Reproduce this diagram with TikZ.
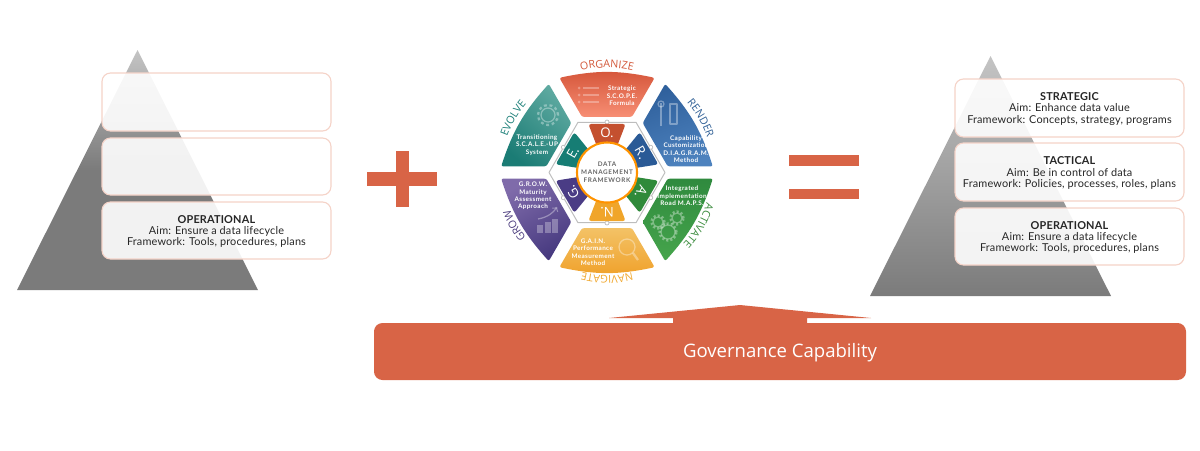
\documentclass[tikz,border=0pt]{standalone}
\usepackage{fontspec}
\setmainfont[LetterSpace=1.5]{Lato}
\newfontfamily\sectorfont[LetterSpace=6]{Lato}
\newfontfamily\centerfont[LetterSpace=10]{Lato}
\newfontfamily\wordfont{Open Sans}
\newcommand{\wheelword}{\wordfont\fontsize{7.6}{7.6}\selectfont}
\usetikzlibrary{decorations.text}

\definecolor{accent}{HTML}{D86446}
\definecolor{boxline}{HTML}{F5D3C8}
\definecolor{pyrtop}{HTML}{C4C4C4}
\definecolor{pyrlow}{HTML}{7B7B7B}
\definecolor{inktext}{HTML}{262626}
\definecolor{hexline}{HTML}{BDBDBD}

\tikzset{
    levelbox/.style={draw=boxline,line width=0.8pt,fill=white,fill opacity=0.9,
        text opacity=1,rounded corners=6pt},
    leveltext/.style={text=inktext,align=center,font=\fontsize{7.75}{8.1}\selectfont},
    sectortext/.style={text=white,align=center,font=\sectorfont\bfseries\fontsize{4.5}{5.3}\selectfont},
    iconline/.style={draw=white,draw opacity=0.35,line width=0.9pt},
    iconfill/.style={fill=white,fill opacity=0.3},
}

\begin{document}
\begin{tikzpicture}[x=0.025cm,y=0.025cm,line join=round]
    \useasboundingbox (0,0) rectangle (1200,-450);

    % Draw both pyramids.
    \shade[top color=pyrtop,bottom color=pyrlow,middle color=pyrlow]
        (137.5,-50) -- (258,-290) -- (17,-290) -- cycle;
    \shade[top color=pyrtop,bottom color=pyrlow]
        (990.5,-56) -- (1111,-296) -- (870,-296) -- cycle;

    % Put the level boxes over them, the texts go on top.
    \foreach \name/\xa/\ya/\xb/\yb in {%
        lefttop/102/73/331/131,
        leftmid/102/138/331/195,
        leftlow/102/202/331/259,
        righttop/955/79/1184/137,
        rightmid/955/143/1184/201,
        rightlow/955/208/1184/265} {
        \filldraw[levelbox] (\xa,-\ya) rectangle (\xb,-\yb);
    }
    \foreach \name/\x/\y/\heading/\aim/\plan in {%
        leftlow/216.5/231.5/OPERATIONAL/Ensure a data lifecycle/Tools{,} procedures{,} plans,
        righttop/1069.5/109/STRATEGIC/Enhance data value/Concepts{,} strategy{,} programs,
        rightmid/1069.5/173/TACTICAL/Be in control of data/Policies{,} processes{,} roles{,} plans,
        rightlow/1069.5/237.5/OPERATIONAL/Ensure a data lifecycle/Tools{,} procedures{,} plans} {
        \node[leveltext] (\name) at (\x,-\y) {\textbf{\heading}\\Aim: \aim\\Framework: \plan};
    }

    % Plus and equals signs.
    \fill[accent] (367,-172) rectangle (437,-186);
    \fill[accent] (396,-151) rectangle (409,-207);
    \fill[accent] (789,-155) rectangle (859,-166);
    \fill[accent] (789,-189) rectangle (859,-199);

    % Bar with the arrow growing out of it.
    \fill[accent] (740,-305) -- (871,-318) -- (807,-318) -- (807,-325)
        -- (673,-325) -- (673,-318) -- (609,-318) -- cycle;
    \fill[accent,rounded corners=6pt] (374,-323) rectangle (1186,-380);
    \node[text=white,font=\wordfont\fontsize{13.2}{14}\selectfont] (governance) at (780,-352.5)
        {Governance Capability};

    % Draw the wheel around its center.
    \begin{scope}[shift={(607,-172.5)}]
        % Six outer sectors.
        \foreach \angle/\dark/\light/\tilt in {%
            90/D5563A/F78E74/0,
            30/2F609C/4D82BE/20,
            -30/2F8A3E/46A54C/0,
            -90/F3C266/F0A22C/0,
            -150/7F6BAA/46397F/30,
            150/5FAAA1/1B7C75/-40} {
            \definecolor{sectordark}{HTML}{\dark}
            \definecolor{sectorlight}{HTML}{\light}
            \shade[top color=sectordark,bottom color=sectorlight,shading angle=\tilt,rounded corners=1.5pt]
                (\angle+26.7:106) to[bend left=12] (\angle-26.7:106)
                -- (\angle-24.2:61) -- (\angle+24.2:61) -- cycle;
        }

        % Hexagon with its small rings.
        \draw[hexline,line width=0.7pt] (0:58) -- (60:58) -- (120:58) -- (180:58)
            -- (240:58) -- (300:58) -- cycle;
        \foreach \angle in {90,30,-30,-90,-150,150} {
            \filldraw[draw=hexline,fill=white,line width=0.5pt] (\angle:50.5) circle (2);
        }

        % Inner letters.
        \foreach \angle/\shadecolor/\letter in {%
            90/C4502F/O.,
            30/2A5A96/R.,
            -30/2F8A3A/A.,
            -90/F0A52A/N.,
            -150/4A3C85/G.,
            150/167D74/E.} {
            \definecolor{lettercolor}{HTML}{\shadecolor}
            \fill[lettercolor,rounded corners=2pt] (\angle+21:52) -- (\angle-21:52)
                -- (\angle-21:24) -- (\angle+21:24) -- cycle;
            \node[text=white,rotate=\angle-90,font=\wordfont\fontsize{9.5}{9.5}\selectfont]
                (letter\angle) at (\angle:39.5) {\letter};
        }

        % Hub.
        \filldraw[draw=orange!85!yellow,fill=white,line width=1.5pt] (0,0) circle (30);
        \node[text=black!60,align=center,font=\centerfont\bfseries\fontsize{4.5}{5.7}\selectfont]
            (hub) at (0,0) {DATA\\MANAGEMENT\\FRAMEWORK};

        % Words around the rim.
        \foreach \angle/\radius/\wordcolor/\word in {%
            90/105/D2583A/ORGANIZE,
            30/106/2F5F95/RENDER,
            -30/104/3C8C3F/ACTIVATE,
            -90/103/F0A830/NAVIGATE,
            -150/104/4E3F80/GROW,
            150/106/1C7F78/EVOLVE} {
            \definecolor{rimcolor}{HTML}{\wordcolor}
            \path[decorate,decoration={text along path,text color=rimcolor,text align=center,
                    text/.expanded={|\noexpand\wheelword|\word}}]
                (\angle+42:\radius) arc[start angle=\angle+42,end angle=\angle-42,radius=\radius];
        }
    \end{scope}

    % Texts of the sectors.
    \foreach \name/\x/\y/\lines in {%
        organize/622/96/Strategic\\S.C.O.P.E.\\Formula,
        render/686/149/Capability\\Customization\\D.I.A.G.R.A.M.\\Method,
        activate/682/196/Integrated\\Implementation\\Road M.A.P.S.,
        navigate/593/252/G.A.I.N.\\Performance\\Measurement\\Method,
        grow/533/196/G.R.O.W.\\Maturity\\Assessment\\Approach,
        evolve/537/145/Transitioning\\S.C.A.L.E.-UP\\System} {
        \node[sectortext] (\name) at (\x,-\y) {\lines};
    }

    % Icons, only hinted at.
    \foreach \y in {88,95,102} {
        \fill[iconfill] (579,-\y) circle (1.5);
        \fill[iconfill] (583,-\y+1.2) rectangle (599,-\y-1.2);
    }
    \draw[iconline] (661,-103) -- (661,-126);
    \draw[iconline] (661,-104) circle (3);
    \draw[iconline] (670,-104) rectangle (677,-124);
    \foreach \x/\y/\rad in {658/222/5,677/218/5,668/232/7} {
        \draw[iconline] (\x,-\y) circle (\rad);
        \draw[iconline,line width=1.6pt,dash pattern=on 1.5pt off 1.5pt] (\x,-\y) circle (\rad+1.5);
    }
    \draw[iconline] (627,-247) circle (8);
    \draw[iconline,line width=1.6pt] (633,-253) -- (638,-260);
    \foreach \x/\ytop in {540/225,548/222,555/219} {
        \fill[iconfill] (\x-3,-233) rectangle (\x+3,-\ytop);
    }
    \draw[iconline,->] (538,-219) .. controls (548,-217) and (553,-213) .. (557,-207);
    \draw[iconline] (548,-115) circle (7);
    \draw[iconline,line width=1.6pt,dash pattern=on 2pt off 2pt] (548,-115) circle (10);
\end{tikzpicture}
\end{document}
